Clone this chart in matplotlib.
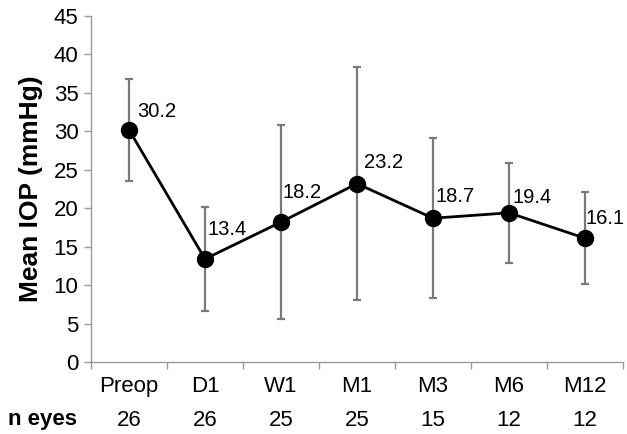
import matplotlib
matplotlib.use("Agg")
import matplotlib.pyplot as plt
from matplotlib.ticker import FixedLocator

plt.rcParams['font.family'] = ['Liberation Sans', 'DejaVu Sans']

categories = ["Preop", "D1", "W1", "M1", "M3", "M6", "M12"]
mean_iop = [30.2, 13.4, 18.2, 23.2, 18.7, 19.4, 16.1]
sd_iop = [6.6, 6.8, 12.6, 15.2, 10.4, 6.5, 6.0]
n_eyes = [26, 26, 25, 25, 15, 12, 12]

fig = plt.figure(figsize=(6.27, 4.34), dpi=100)
ax = fig.add_axes([91/627, 1 - 362/434, (623 - 91)/627, (362 - 16)/434])

x = list(range(len(categories)))
ax.errorbar(x, mean_iop, yerr=sd_iop, fmt='none', ecolor='#7a7a7a',
            elinewidth=1.6, capsize=3, capthick=1.6, zorder=2)
ax.plot(x, mean_iop, color='black', lw=2, marker='o', markersize=11.5,
        markerfacecolor='black', zorder=3)

# label offsets in pixels (dx right, dy up from point to text bottom)
label_offsets_px = [(8, 13), (3, 24), (2, 24), (7, 16), (3, 16), (4, 10), (1, 14)]
for xi, v, (dx, dy) in zip(x, mean_iop, label_offsets_px):
    ax.annotate(f"{v:.1f}", (xi, v), xytext=(dx / 1.389, dy / 1.389),
                textcoords='offset points', ha='left', va='baseline', fontsize=14.5)

ax.set_xlim(-0.5, len(categories) - 0.5)
ax.set_ylim(0, 45)
ax.set_yticks(range(0, 46, 5))
ax.set_xticks(x)
ax.set_xticklabels(categories)
ax.xaxis.set_minor_locator(FixedLocator([i - 0.5 for i in range(len(categories) + 1)]))
ax.tick_params(axis='x', which='major', length=0, labelsize=16, pad=10)
ax.tick_params(axis='x', which='minor', length=5, color='#9a9a9a', width=1)
ax.tick_params(axis='y', length=5, color='#9a9a9a', width=1, labelsize=16, pad=4)

for s in ['top', 'right']:
    ax.spines[s].set_visible(False)
for s in ['left', 'bottom']:
    ax.spines[s].set_color('#9a9a9a')
    ax.spines[s].set_linewidth(1)

ax.set_ylabel("Mean IOP (mmHg)", fontsize=19, fontweight='bold', labelpad=8)

# n eyes row
trans = ax.get_xaxis_transform()
for xi, n in zip(x, n_eyes):
    ax.text(xi, -(420 - 362) / (362 - 16), str(n), transform=trans,
            ha='center', va='center', fontsize=16)
fig.text(42/627, 1 - 420/434, "n eyes", ha='center', va='center', fontsize=16, fontweight='bold')

fig.savefig("out.png", dpi=100)
